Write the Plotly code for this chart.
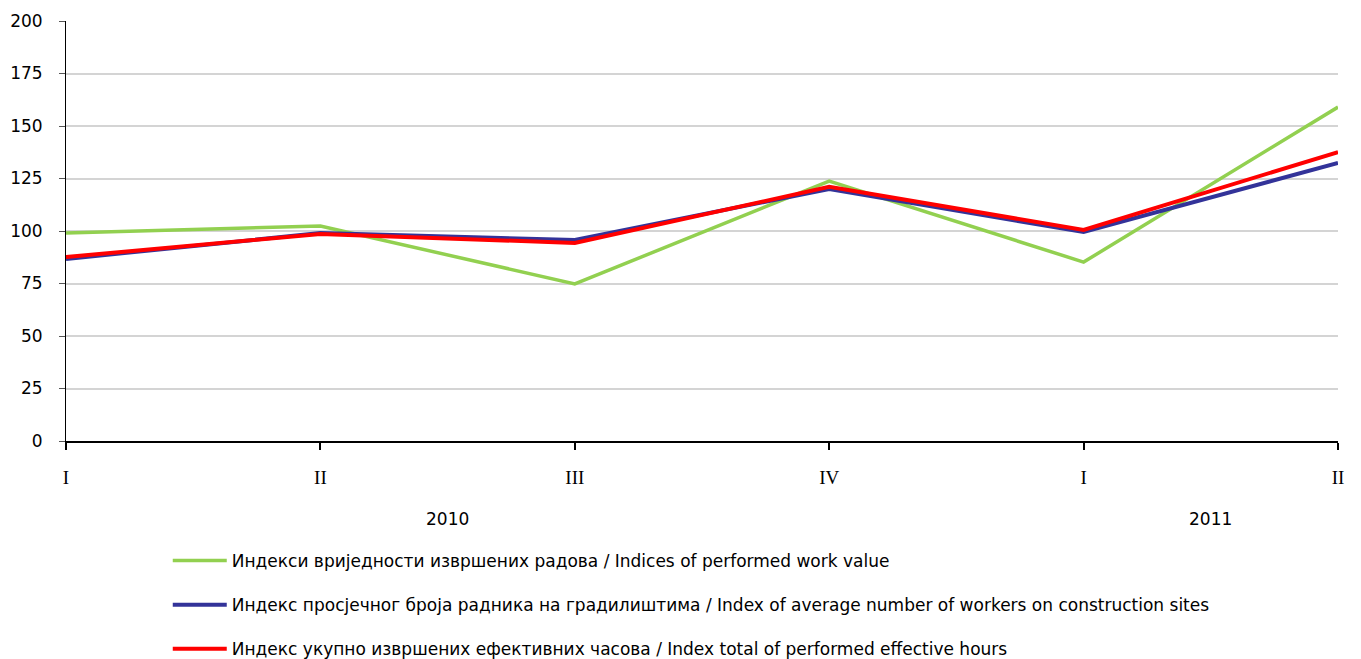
import plotly.graph_objects as go

quarters = ["I", "II", "III", "IV", "I", "II"]
years = ["2010", "2011"]
year_centers = [1.5, 4.5]
work_value = [99.0, 102.4, 74.8, 123.8, 85.2, 159.0]
workers = [86.7, 99.0, 95.7, 120.0, 99.5, 132.4]
hours = [87.6, 98.6, 94.3, 121.0, 100.5, 137.6]
names = [
    "Индекси вриједности извршених радова / Indices of performed work value",
    "Индекс просјечног броја радника на градилиштима / Index of average number of workers on construction sites",
    "Индекс укупно извршених ефективних часова / Index total of performed effective hours",
]
colors = ["#92d050", "#333399", "#ff0000"]
widths = [3.5, 4, 4]

xs = list(range(len(quarters)))
fig = go.Figure()
for i, (vals, nm) in enumerate(zip([work_value, workers, hours], names)):
    fig.add_trace(go.Scatter(x=xs, y=vals, mode="lines", name=nm,
                             line=dict(color=colors[i], width=widths[i]),
                             legendgroup=str(i)))

font = "DejaVu Sans"
fig.update_layout(
    width=1361, height=659,
    margin=dict(l=58, r=31, t=13, b=226, autoexpand=False),
    plot_bgcolor="white", paper_bgcolor="white",
    font=dict(family=font, size=17, color="black"),
    showlegend=True,
    legend=dict(x=0.080, y=-0.243, xanchor="left", yanchor="top",
                orientation="v", tracegroupgap=19, itemwidth=54,
                font=dict(family=font, size=17), bgcolor="rgba(0,0,0,0)"),
    xaxis=dict(range=[0, len(quarters) - 1], tickmode="array", tickvals=xs,
               ticktext=quarters, showgrid=False, zeroline=False,
               showline=True, linecolor="black", linewidth=2,
               ticks="outside", ticklen=7, tickwidth=2, tickcolor="black",
               tickfont=dict(family="Liberation Serif", size=19),
               ticklabelstandoff=11),
    yaxis=dict(range=[0, 200], tickmode="array", tickvals=list(range(0, 201, 25)),
               showgrid=True, gridcolor="#d4d4d4", gridwidth=1.5, zeroline=False,
               showline=True, linecolor="black", linewidth=1,
               ticks="outside", ticklen=6, tickcolor="#555", tickwidth=1,
               tickfont=dict(family=font, size=17), ticklabelstandoff=13),
)
for yr, c in zip(years, year_centers):
    fig.add_annotation(x=c, y=-0.186, xref="x", yref="paper", text=yr,
                       showarrow=False, font=dict(family=font, size=17),
                       xanchor="center", yanchor="middle")
fig.write_html("out.html")
